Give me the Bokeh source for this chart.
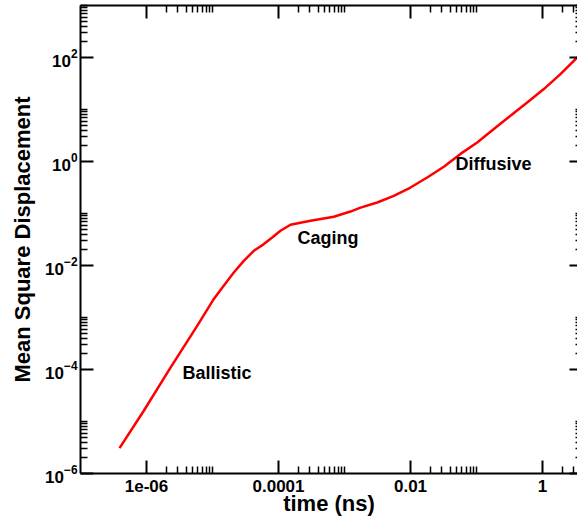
from bokeh.plotting import figure
from bokeh.models import (LogAxis, FixedTicker, CustomJSTickFormatter, Label,
                          Range1d, LogTickFormatter)
from bokeh.embed import file_html
from bokeh.resources import INLINE

# Mean square displacement vs. time (log-log)
time_ns = [3.90e-7, 9.1e-7, 2.31e-6, 5.86e-6, 1.026e-5, 1.48e-5, 2.10e-5,
           2.98e-5, 4.23e-5, 5.99e-5, 8.03e-5, 1.07e-4, 1.52e-4, 2.15e-4,
           3.05e-4, 6.89e-4, 1.23e-3, 1.75e-3, 3.13e-3, 5.58e-3, 1.0e-2,
           1.79e-2, 3.20e-2, 5.72e-2, 0.1025, 0.183, 0.327, 0.586, 1.047,
           1.87, 3.36]
msd = [3.08e-6, 1.61e-5, 1.09e-4, 6.92e-4, 2.19e-3, 4.07e-3, 7.33e-3,
       1.23e-2, 1.92e-2, 2.58e-2, 3.45e-2, 4.65e-2, 6.07e-2, 6.63e-2,
       7.24e-2, 8.65e-2, 0.109, 0.130, 0.163, 0.219, 0.316,
       0.492, 0.791, 1.40, 2.32, 4.20, 7.57, 13.6, 24.7,
       48.0, 100.0]

x_ticks = [1e-6, 1e-4, 1e-2, 1.0]
x_tick_labels = ["1e-06", "0.0001", "0.01", "1"]
y_ticks = [1e-6, 1e-4, 1e-2, 1.0, 1e2]

regimes = ["Ballistic", "Caging", "Diffusive"]
regime_x = [3.51e-6, 1.94e-4, 4.81e-2]
regime_y = [8.65e-5, 3.41e-2, 0.904]

FONT = "Liberation Sans"


def minor_list(majors):
    return [m * t for t in majors for m in range(2, 11)]


x_minor = minor_list(x_ticks)
y_minor = minor_list(y_ticks)

p = figure(frame_width=497, frame_height=468,
           x_axis_type="log", y_axis_type="log",
           x_range=Range1d(1e-7, 3.39), y_range=Range1d(1e-6, 1e3),
           output_backend="svg", toolbar_location=None,
           min_border_left=80, min_border_right=0,
           min_border_top=5, min_border_bottom=52,
           background_fill_color="white", border_fill_color="white")
p.outline_line_color = None
p.grid.visible = False

p.line(time_ns, msd, line_color="#ff0000", line_width=2.5,
       line_join="round")

for name, xv, yv in zip(regimes, regime_x, regime_y):
    p.add_layout(Label(x=xv, y=yv, text=name, text_font=FONT,
                       text_font_style="bold", text_font_size="18px",
                       text_color="black",
                       text_baseline="middle", text_align="left"))

xfmt = CustomJSTickFormatter(args=dict(major_vals=x_ticks, tick_text=x_tick_labels), code="""
    const i = major_vals.findIndex(t => Math.abs(Math.log10(t) - Math.log10(tick)) < 1e-6);
    return i >= 0 ? tick_text[i] : "";
""")


def style(ax, major, minor, major_in=13, minor_in=7):
    ax.ticker = FixedTicker(ticks=major, minor_ticks=minor)
    ax.major_tick_in = major_in
    ax.major_tick_out = 0
    ax.minor_tick_in = minor_in
    ax.minor_tick_out = 0
    ax.major_tick_line_width = 2
    ax.minor_tick_line_width = 1.5
    ax.major_tick_line_color = "black"
    ax.minor_tick_line_color = "black"
    ax.axis_line_width = 2
    ax.axis_line_color = "black"
    ax.major_label_text_font = FONT
    ax.major_label_text_font_style = "bold"
    ax.major_label_text_font_size = "17px"
    ax.major_label_text_color = "black"
    ax.axis_label_text_font = FONT
    ax.axis_label_text_font_style = "bold"
    ax.axis_label_text_font_size = "22px"
    ax.axis_label_text_color = "black"


def mirror(ax):
    # tick marks only, no labels
    ax.formatter = CustomJSTickFormatter(code="return '';")
    ax.major_label_text_font_size = "1px"
    ax.major_label_text_alpha = 0
    ax.major_label_standoff = 0


xa = p.xaxis[0]
style(xa, x_ticks, x_minor)
xa.formatter = xfmt
xa.axis_label = "time (ns)"
xa.major_label_standoff = 6
xa.axis_label_standoff = -4

ya = p.yaxis[0]
style(ya, y_ticks, y_minor)
ya.formatter = LogTickFormatter()
ya.axis_label = "Mean Square Displacement"
ya.major_label_standoff = 3
ya.axis_label_standoff = 7

top = LogAxis()
style(top, x_ticks, x_minor)
mirror(top)
p.add_layout(top, "above")

right = LogAxis()
style(right, y_ticks, y_minor, major_in=8, minor_in=2)
right.axis_line_color = None
mirror(right)
p.add_layout(right, "right")

open("out.html", "w").write(file_html(p, INLINE))
